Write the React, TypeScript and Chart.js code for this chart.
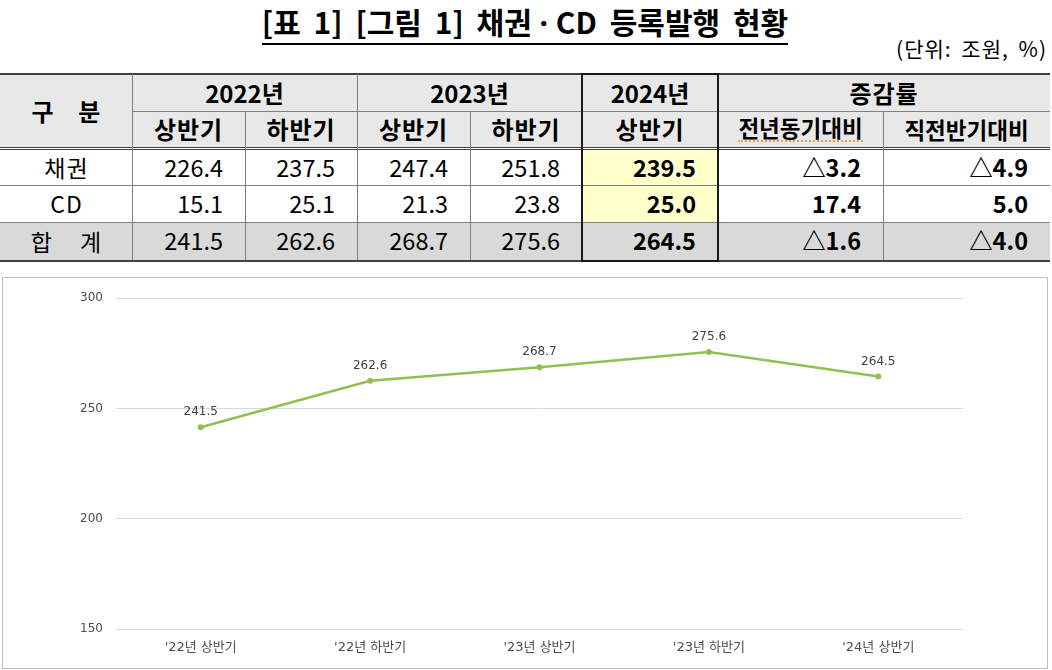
import React, { useEffect, useRef } from "react";
import { Chart, registerables } from "chart.js";

Chart.register(...registerables);

// ---------- data ----------
const periods = ["'22년 상반기", "'22년 하반기", "'23년 상반기", "'23년 하반기", "'24년 상반기"];
const yearHeaders = ["2022년", "2023년", "2024년"];
const halfHeaders = ["상반기", "하반기", "상반기", "하반기", "상반기"];
const changeHeaders = ["전년동기대비", "직전반기대비"];
const rowLabels = ["채권", "CD", "합 계"];
const bondValues = [226.4, 237.5, 247.4, 251.8, 239.5];
const cdValues = [15.1, 25.1, 21.3, 23.8, 25.0];
const totalValues = [241.5, 262.6, 268.7, 275.6, 264.5];
const yoyChange = ["△3.2", "17.4", "△1.6"];
const hohChange = ["△4.9", "5.0", "△4.0"];
const yTicks = [150, 200, 250, 300];

const FONT = '"Noto Sans CJK KR", "Noto Sans", sans-serif';
const CHART_FONT = '"DejaVu Sans", "Noto Sans CJK KR", sans-serif';

const labelPlugin = {
  id: "pointValueLabels",
  afterDatasetsDraw(chart: any) {
    const ctx = chart.ctx;
    const meta = chart.getDatasetMeta(0);
    ctx.save();
    ctx.font = `12px ${CHART_FONT}`;
    ctx.fillStyle = "#404040";
    ctx.textAlign = "center";
    ctx.textBaseline = "middle";
    meta.data.forEach((pt: any, i: number) => {
      ctx.fillText(totalValues[i].toFixed(1), pt.x, pt.y - 15);
    });
    ctx.restore();
  },
};

function LineChart() {
  const ref = useRef<HTMLCanvasElement | null>(null);
  useEffect(() => {
    if (!ref.current) return;
    const chart = new Chart(ref.current, {
      type: "line",
      data: {
        labels: periods,
        datasets: [
          {
            data: totalValues,
            borderColor: "#92c050",
            backgroundColor: "#92c050",
            borderWidth: 2.5,
            pointRadius: 3,
            pointHoverRadius: 3,
            pointBorderWidth: 0,
            tension: 0,
          },
        ],
      },
      options: {
        responsive: false,
        maintainAspectRatio: false,
        animation: false,
        layout: { padding: { top: 20, right: 84, left: 0, bottom: 0 } },
        plugins: { legend: { display: false }, tooltip: { enabled: false } },
        scales: {
          x: {
            offset: true,
            grid: { display: false, drawTicks: false },
            border: { display: false },
            ticks: { color: "#4d4d4d", font: { family: CHART_FONT, size: 13 }, padding: 11 },
            afterFit: (s: any) => {
              s.height = 39;
            },
          },
          y: {
            min: 150,
            max: 300,
            afterBuildTicks: (s: any) => {
              s.ticks = yTicks.map((v) => ({ value: v }));
            },
            ticks: { color: "#4d4d4d", font: { family: CHART_FONT, size: 12 }, padding: 13 },
            grid: { color: "#d9d9d9", drawTicks: false, lineWidth: 1 },
            border: { display: false },
            afterFit: (s: any) => {
              s.width = 113;
            },
          },
        },
      },
      plugins: [labelPlugin],
    } as any);
    return () => chart.destroy();
  }, []);
  return <canvas ref={ref} width={1044} height={390} style={{ display: "block" }} />;
}

const colX = [0, 132, 245, 357, 470, 582, 718, 883, 1050];
const TOP = 74;
const MID = 111;
const HEAD_BOTTOM = 147;
const R1 = 150;
const R2 = 185;
const R3 = 222;
const BOTTOM = 260;

const HEAD_BG = "#e8e8e8";
const TOTAL_BG = "#d9d9d9";
const YELLOW = "#ffffcc";
const LINE = "#7f7f7f";

function Cell(props: {
  x1: number;
  x2: number;
  y1: number;
  y2: number;
  bg?: string;
  bold?: boolean;
  align?: "center" | "right";
  size?: number;
  spacing?: string;
  children: React.ReactNode;
}) {
  const { x1, x2, y1, y2, bg, bold, align = "center", size = 23, spacing } = props;
  return (
    <div
      style={{
        position: "absolute",
        left: x1,
        top: y1,
        width: x2 - x1,
        height: y2 - y1,
        background: bg || "transparent",
        display: "flex",
        alignItems: "center",
        justifyContent: align === "right" ? "flex-end" : "center",
        paddingRight: align === "right" ? 22 : 0,
        boxSizing: "border-box",
        fontWeight: bold ? 700 : 400,
        fontSize: size,
        letterSpacing: spacing,
        color: "#000",
        whiteSpace: "nowrap",
        lineHeight: 1,
      }}
    >
      {props.children}
    </div>
  );
}

function HLine({ y, x1, x2, w = 1, c = LINE }: { y: number; x1: number; x2: number; w?: number; c?: string }) {
  return <div style={{ position: "absolute", left: x1, top: y, width: x2 - x1, height: w, background: c }} />;
}
function VLine({ x, y1, y2, w = 1, c = LINE }: { x: number; y1: number; y2: number; w?: number; c?: string }) {
  return <div style={{ position: "absolute", left: x, top: y1, width: w, height: y2 - y1, background: c }} />;
}

function Table() {
  const dataRows = [bondValues, cdValues, totalValues];
  const rowTops = [R1, R2, R3];
  const rowBottoms = [R2, R3, BOTTOM];
  const cells: React.ReactNode[] = [];
  cells.push(<div key="hbg" style={{ position: "absolute", left: 0, top: TOP, width: 1050, height: HEAD_BOTTOM - TOP, background: HEAD_BG }} />);
  cells.push(<div key="tbg" style={{ position: "absolute", left: 0, top: R3, width: 1050, height: BOTTOM - R3, background: TOTAL_BG }} />);
  cells.push(
    <Cell key="gubun" x1={colX[0]} x2={colX[1]} y1={TOP} y2={HEAD_BOTTOM} bold size={24} spacing="0.4em">
      <span style={{ marginRight: "-0.4em" }}>구 분</span>
    </Cell>
  );
  yearHeaders.forEach((y, i) => {
    const x1 = i < 2 ? colX[1 + i * 2] : colX[5];
    const x2 = i < 2 ? colX[3 + i * 2] : colX[6];
    cells.push(
      <Cell key={"yh" + i} x1={x1} x2={x2} y1={TOP} y2={MID} bold size={24}>
        {y}
      </Cell>
    );
  });
  cells.push(
    <Cell key="chg" x1={colX[6]} x2={colX[8]} y1={TOP} y2={MID} bold size={24} spacing="1px">
      증감률
    </Cell>
  );
  halfHeaders.forEach((h, i) => {
    cells.push(
      <Cell key={"hh" + i} x1={colX[1 + i]} x2={colX[2 + i]} y1={MID} y2={HEAD_BOTTOM} bold size={24} spacing="1px">
        {h}
      </Cell>
    );
  });
  changeHeaders.forEach((h, i) => {
    cells.push(
      <Cell key={"ch" + i} x1={colX[6 + i]} x2={colX[7 + i]} y1={MID} y2={HEAD_BOTTOM} bold size={22.5}>
        {i === 0 ? (
          <span style={{ borderBottom: "2px dotted #e8a040", paddingBottom: 1 }}>{h}</span>
        ) : (
          h
        )}
      </Cell>
    );
  });
  rowLabels.forEach((r, ri) => {
    cells.push(
      <Cell key={"rl" + ri} x1={colX[0]} x2={colX[1]} y1={rowTops[ri]} y2={rowBottoms[ri]} size={23} spacing={ri === 2 ? "0.5em" : "1px"}>
        <span style={{ marginRight: ri === 2 ? "-0.5em" : "-1px" }}>{r}</span>
      </Cell>
    );
    dataRows[ri].forEach((v, ci) => {
      const is2024 = ci === 4;
      cells.push(
        <Cell
          key={"d" + ri + "_" + ci}
          x1={colX[1 + ci]}
          x2={colX[2 + ci]}
          y1={rowTops[ri]}
          y2={rowBottoms[ri]}
          align="right"
          bold={is2024}
          size={23.5}
          bg={is2024 && ri < 2 ? YELLOW : undefined}
        >
          {v.toFixed(1)}
        </Cell>
      );
    });
    cells.push(
      <Cell key={"yoy" + ri} x1={colX[6]} x2={colX[7]} y1={rowTops[ri]} y2={rowBottoms[ri]} align="right" bold size={23.5}>
        {yoyChange[ri]}
      </Cell>
    );
    cells.push(
      <Cell key={"hoh" + ri} x1={colX[7]} x2={colX[8]} y1={rowTops[ri]} y2={rowBottoms[ri]} align="right" bold size={23.5}>
        {hohChange[ri]}
      </Cell>
    );
  });
  const lines = [
    <HLine key="l1" y={TOP - 1} x1={0} x2={1050} w={2} c="#404040" />,
    <HLine key="l2" y={MID} x1={colX[1]} x2={1050} />,
    <HLine key="l3" y={HEAD_BOTTOM} x1={0} x2={1050} c="#404040" />,
    <HLine key="l4" y={R1 - 1} x1={0} x2={1050} c="#404040" />,
    <HLine key="l5" y={R2} x1={0} x2={1050} />,
    <HLine key="l6" y={R3} x1={0} x2={1050} />,
    <HLine key="l7" y={BOTTOM} x1={0} x2={1050} w={2} c="#404040" />,
    <VLine key="v1" x={colX[1]} y1={TOP} y2={BOTTOM} />,
    <VLine key="v2" x={colX[2]} y1={MID} y2={BOTTOM} />,
    <VLine key="v3" x={colX[3]} y1={TOP} y2={BOTTOM} />,
    <VLine key="v4" x={colX[4]} y1={MID} y2={BOTTOM} />,
    <VLine key="v7" x={colX[7]} y1={MID} y2={BOTTOM} />,
    <div
      key="box"
      style={{
        position: "absolute",
        left: colX[5] - 1,
        top: TOP - 1,
        width: colX[6] - colX[5] + 2,
        height: BOTTOM - TOP + 3,
        border: "2px solid #1a1a1a",
        boxSizing: "border-box",
      }}
    />,
  ];
  return (
    <>
      {cells}
      {lines}
    </>
  );
}

export default function App() {
  return (
    <div
      style={{
        position: "absolute",
        left: 0,
        top: 0,
        width: 1052,
        height: 670,
        background: "#fff",
        fontFamily: FONT,
        overflow: "hidden",
      }}
    >
      <div
        style={{
          position: "absolute",
          left: 0,
          width: 1052,
          top: 3,
          textAlign: "center",
        }}
      >
        <span
          style={{
            display: "inline-block",
            fontSize: 30,
            fontWeight: 700,
            lineHeight: "36px",
            wordSpacing: "6px",
            borderBottom: "2px solid #000",
            paddingBottom: 2,
            transform: "translateX(-1px)",
          }}
        >
          [표 1] [그림 1] 채권<span style={{ fontFamily: '"Noto Sans", sans-serif', wordSpacing: 0 }}> · </span>CD 등록발행 현황
        </span>
      </div>
      <div
        style={{
          position: "absolute",
          right: 5,
          top: 36,
          fontSize: 21,
          lineHeight: "24px",
          letterSpacing: "1px",
          wordSpacing: "4px",
        }}
      >
        (단위: 조원, %)
      </div>
      <Table />
      <div
        style={{
          position: "absolute",
          left: 2,
          top: 277,
          width: 1046,
          height: 392,
          border: "1px solid #bfbfbf",
          boxSizing: "border-box",
        }}
      >
        <LineChart />
      </div>
    </div>
  );
}
